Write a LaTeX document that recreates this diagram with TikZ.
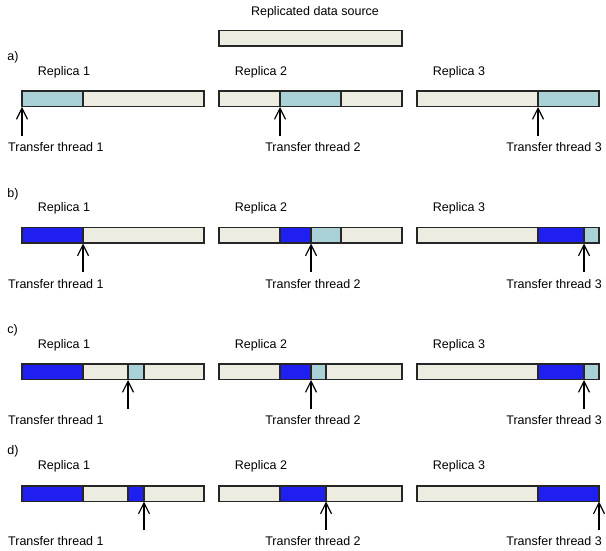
\documentclass[tikz,border=0pt]{standalone}
\usepackage{fontspec}
\setmainfont{Liberation Sans}
\usetikzlibrary{arrows.meta}
\definecolor{beige}{HTML}{ECECE0}
\definecolor{lblue}{HTML}{A9D1D6}
\definecolor{dblue}{HTML}{1F1FF0}
\tikzset{
  seg/.style={draw=black!85, line width=1.3pt},
  lbl/.style={font=\fontsize{12.5}{14}\selectfont, inner sep=0pt, anchor=base},
  thr/.style={-{Straight Barb[length=11pt,width=11pt,line width=1.2pt]}, line width=1.3pt},
}
\newcommand\bseg[4]{\filldraw[seg,fill=#4] (#1,#3) rectangle (#2,#3+15.5);}
\begin{document}
\begin{tikzpicture}[x=1pt,y=-1pt]
\useasboundingbox (0,0) rectangle (606,551);
% source
\node[lbl] (title) at (315,16) {Replicated data source};
\bseg{219}{402}{30.5}{beige}

% ---- row a ----
\node[lbl,anchor=base west] (la) at (7.3,60.5) {a)};
\node[lbl] (ra1) at (64,76) {Replica 1};
\node[lbl] (ra2) at (261,76) {Replica 2};
\node[lbl] (ra3) at (459,76) {Replica 3};
\bseg{22}{83}{91}{lblue}\bseg{83}{204}{91}{beige}
\bseg{219}{280}{91}{beige}\bseg{280}{341}{91}{lblue}\bseg{341}{402}{91}{beige}
\bseg{417}{538}{91}{beige}\bseg{538}{599}{91}{lblue}
\node[lbl,anchor=base west] (ta1) at (8,151) {Transfer thread 1};
\node[lbl] (ta2) at (313,151) {Transfer thread 2};
\node[lbl,anchor=base east] (ta3) at (602,151) {Transfer thread 3};
\coordinate (a1s) at (22,136); \coordinate (a1t) at (22,107);
\coordinate (a2s) at (280,136); \coordinate (a2t) at (280,107);
\coordinate (a3s) at (538,136); \coordinate (a3t) at (538,107);
\draw[thr] (a1s) -- (a1t);
\draw[thr] (a2s) -- (a2t);
\draw[thr] (a3s) -- (a3t);

% ---- row b ----
\node[lbl,anchor=base west] (lb) at (7.3,197.5) {b)};
\node[lbl] (rb1) at (64,211.7) {Replica 1};
\node[lbl] (rb2) at (261,211.7) {Replica 2};
\node[lbl] (rb3) at (459,211.7) {Replica 3};
\bseg{22}{83}{227.5}{dblue}\bseg{83}{204}{227.5}{beige}
\bseg{219}{280}{227.5}{beige}\bseg{280}{311}{227.5}{dblue}\bseg{311}{341}{227.5}{lblue}\bseg{341}{402}{227.5}{beige}
\bseg{417}{538}{227.5}{beige}\bseg{538}{584}{227.5}{dblue}\bseg{584}{599}{227.5}{lblue}
\node[lbl,anchor=base west] (tb1) at (8,288.3) {Transfer thread 1};
\node[lbl] (tb2) at (313,288.3) {Transfer thread 2};
\node[lbl,anchor=base east] (tb3) at (602,288.3) {Transfer thread 3};
\coordinate (b1s) at (83,272); \coordinate (b1t) at (83,243.5);
\coordinate (b2s) at (311,272); \coordinate (b2t) at (311,243.5);
\coordinate (b3s) at (584,272); \coordinate (b3t) at (584,243.5);
\draw[thr] (b1s) -- (b1t);
\draw[thr] (b2s) -- (b2t);
\draw[thr] (b3s) -- (b3t);

% ---- row c ----
\node[lbl,anchor=base west] (lc) at (7.3,333) {c)};
\node[lbl] (rc1) at (64,348.3) {Replica 1};
\node[lbl] (rc2) at (261,348.3) {Replica 2};
\node[lbl] (rc3) at (459,348.3) {Replica 3};
\bseg{22}{83}{364}{dblue}\bseg{83}{128}{364}{beige}\bseg{128}{144}{364}{lblue}\bseg{144}{204}{364}{beige}
\bseg{219}{280}{364}{beige}\bseg{280}{311}{364}{dblue}\bseg{311}{326}{364}{lblue}\bseg{326}{402}{364}{beige}
\bseg{417}{538}{364}{beige}\bseg{538}{584}{364}{dblue}\bseg{584}{599}{364}{lblue}
\node[lbl,anchor=base west] (tc1) at (8,424.3) {Transfer thread 1};
\node[lbl] (tc2) at (313,424.3) {Transfer thread 2};
\node[lbl,anchor=base east] (tc3) at (602,424.3) {Transfer thread 3};
\coordinate (c1s) at (128,409); \coordinate (c1t) at (128,380);
\coordinate (c2s) at (311,409); \coordinate (c2t) at (311,380);
\coordinate (c3s) at (584,409); \coordinate (c3t) at (584,380);
\draw[thr] (c1s) -- (c1t);
\draw[thr] (c2s) -- (c2t);
\draw[thr] (c3s) -- (c3t);

% ---- row d ----
\node[lbl,anchor=base west] (ld) at (7.3,454.3) {d)};
\node[lbl] (rd1) at (64,469.3) {Replica 1};
\node[lbl] (rd2) at (261,469.3) {Replica 2};
\node[lbl] (rd3) at (459,469.3) {Replica 3};
\bseg{22}{83}{486}{dblue}\bseg{83}{128}{486}{beige}\bseg{128}{144}{486}{dblue}\bseg{144}{204}{486}{beige}
\bseg{219}{280}{486}{beige}\bseg{280}{326}{486}{dblue}\bseg{326}{402}{486}{beige}
\bseg{417}{538}{486}{beige}\bseg{538}{599}{486}{dblue}
\node[lbl,anchor=base west] (td1) at (8,545) {Transfer thread 1};
\node[lbl] (td2) at (313,545) {Transfer thread 2};
\node[lbl,anchor=base east] (td3) at (602,545) {Transfer thread 3};
\coordinate (d1s) at (144,530); \coordinate (d1t) at (144,501.5);
\coordinate (d2s) at (326,530); \coordinate (d2t) at (326,501.5);
\coordinate (d3s) at (599,530); \coordinate (d3t) at (599,501.5);
\draw[thr] (d1s) -- (d1t);
\draw[thr] (d2s) -- (d2t);
\draw[thr] (d3s) -- (d3t);
\end{tikzpicture}
\end{document}
